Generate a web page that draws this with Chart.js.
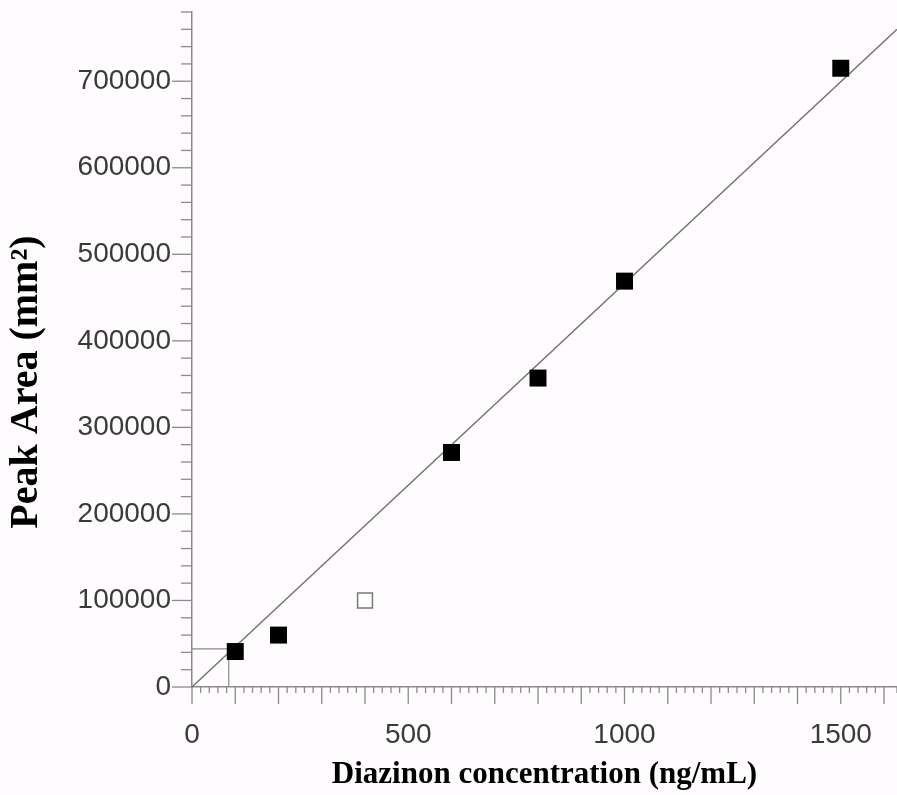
<!DOCTYPE html>
<html>
<head>
<meta charset="utf-8">
<script src="https://cdn.jsdelivr.net/npm/chart.js@4/dist/chart.umd.min.js"></script>
<style>
  html, body { margin: 0; padding: 0; background: #fefcfe; overflow: hidden; }
  #wrap { width: 897px; height: 795px; position: relative; }
  canvas { display: block; }
</style>
</head>
<body>
<div id="wrap"><canvas id="calib"></canvas></div>
<script>
// calibration points (ng/mL vs peak area)
const concentrations = [100, 200, 600, 800, 1000, 1500];
const peakAreas = [41000, 60000, 271000, 357000, 469000, 715000];
// the outlier drawn hollow
const outlierConc = [400];
const outlierArea = [100000];
// regression line end points
const fitConc = [0, 1630];
const fitArea = [0, 760000];
// LOQ guide lines
const loqConc = [0, 85, 85];
const loqArea = [44000, 44000, 0];

const xTitle = "Diazinon concentration (ng/mL)";
const yTitle = "Peak Area (mm²)";

const toPts = (xs, ys) => xs.map((x, i) => ({ x: x, y: ys[i] }));

// tick marks of different lengths, drawn at the scales' own tick positions
const tickMarks = {
  id: "tickMarks",
  afterDraw(chart) {
    const ctx = chart.ctx;
    const xs = chart.scales.x, ys = chart.scales.y;
    ctx.save();
    ctx.strokeStyle = "#8a8a8a";
    ctx.lineWidth = 1.3;
    xs.ticks.forEach((t) => {
      const px = xs.getPixelForValue(t.value);
      const len = t.value % 100 === 0 ? 17 : 6;
      ctx.beginPath();
      ctx.moveTo(px, xs.top);
      ctx.lineTo(px, xs.top + len);
      ctx.stroke();
    });
    ys.ticks.forEach((t) => {
      const py = ys.getPixelForValue(t.value);
      const len = t.value % 100000 === 0 ? 20 : 11;
      ctx.beginPath();
      ctx.moveTo(ys.right, py);
      ctx.lineTo(ys.right - len, py);
      ctx.stroke();
    });
    // y title
    ctx.translate(27, 382);
    ctx.rotate(-Math.PI / 2);
    ctx.fillStyle = "#000";
    ctx.font = "bold 40px 'Liberation Serif', 'Times New Roman', serif";
    ctx.textAlign = "center";
    ctx.textBaseline = "middle";
    ctx.fillText(yTitle, 0, 0);
    ctx.restore();
  },
};

const ctx = document.getElementById("calib").getContext("2d");
const myChart = new Chart(ctx, {
  data: {
    datasets: [
      {
        type: "line",
        data: toPts(fitConc, fitArea),
        borderColor: "#6f6f6f",
        borderWidth: 1.3,
        pointRadius: 0,
        order: 3,
      },
      {
        type: "line",
        data: toPts(loqConc, loqArea),
        borderColor: "#8a8a8a",
        borderWidth: 1.2,
        pointRadius: 0,
        order: 4,
      },
      {
        type: "scatter",
        data: toPts(concentrations, peakAreas),
        pointStyle: "rect",
        pointRadius: 12,
        pointHoverRadius: 12,
        backgroundColor: "#000",
        borderColor: "#000",
        borderWidth: 0,
        order: 1,
      },
      {
        type: "scatter",
        data: toPts(outlierConc, outlierArea),
        pointStyle: "rect",
        pointRadius: 10.5,
        pointHoverRadius: 10.5,
        backgroundColor: "#ffffff",
        borderColor: "#777",
        borderWidth: 1.5,
        order: 2,
      },
    ],
  },
  options: {
    responsive: true,
    maintainAspectRatio: false,
    animation: false,
    layout: { autoPadding: false, padding: { top: 12, right: 0, bottom: 0, left: 0 } },
    plugins: { legend: { display: false }, tooltip: { enabled: false } },
    scales: {
      x: {
        type: "linear",
        min: 0,
        max: 1630,
        border: { color: "#8a8a8a", width: 1.5 },
        grid: {
          drawOnChartArea: false,
          drawTicks: true,
          tickLength: 17,
          tickColor: "rgba(0,0,0,0)",
        },
        ticks: {
          stepSize: 20,
          autoSkip: false,
          maxRotation: 0,
          padding: 14,
          color: "#3a3a3a",
          font: { family: "'Liberation Sans', Arial, sans-serif", size: 28 },
          callback: (v) => (v % 500 === 0 ? String(v) : ""),
        },
        title: {
          display: true,
          text: xTitle,
          color: "#000",
          font: { family: "'Liberation Serif', 'Times New Roman', serif", size: 31, weight: "bold" },
          padding: { top: 0, bottom: 1 },
        },
        afterFit(scale) {
          scale.height = 108;
          scale.paddingLeft = 0;
          scale.paddingRight = 0;
        },
      },
      y: {
        type: "linear",
        min: 0,
        max: 780000,
        border: { color: "#8a8a8a", width: 1.5 },
        grid: {
          drawOnChartArea: false,
          drawTicks: true,
          tickLength: 20,
          tickColor: "rgba(0,0,0,0)",
        },
        ticks: {
          stepSize: 20000,
          autoSkip: false,
          padding: 1,
          color: "#3a3a3a",
          font: { family: "'Liberation Sans', Arial, sans-serif", size: 28 },
          callback: (v) => (v % 100000 === 0 ? String(v) : ""),
        },
        afterFit(scale) {
          scale.width = 192;
          scale.paddingTop = 0;
          scale.paddingBottom = 0;
        },
      },
    },
  },
  plugins: [tickMarks],
});
</script>
</body>
</html>
